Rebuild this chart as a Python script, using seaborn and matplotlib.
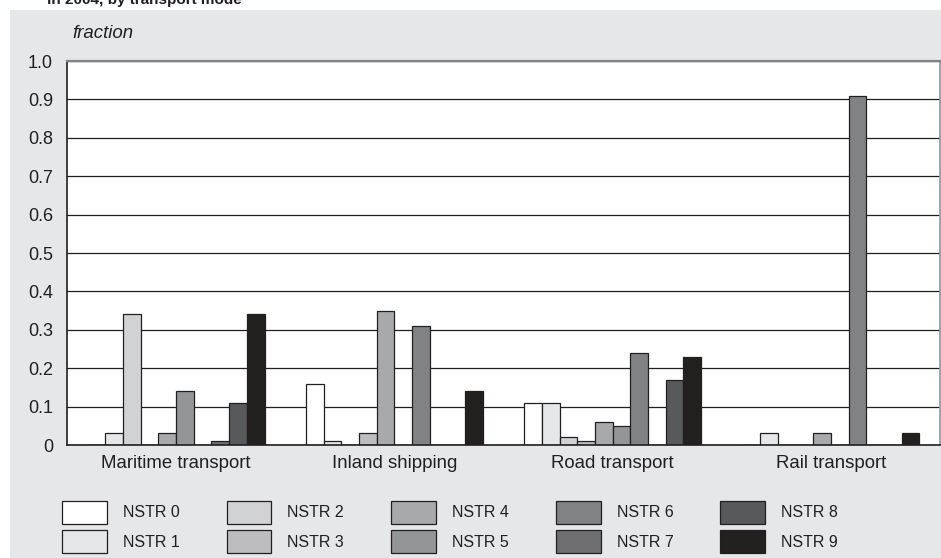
import matplotlib
matplotlib.use("Agg")
import matplotlib.pyplot as plt
from matplotlib.patches import Rectangle
import seaborn as sns
import pandas as pd

# values
modes = ["Maritime transport", "Inland shipping", "Road transport", "Rail transport"]
nstr = ["NSTR 0", "NSTR 1", "NSTR 2", "NSTR 3", "NSTR 4",
        "NSTR 5", "NSTR 6", "NSTR 7", "NSTR 8", "NSTR 9"]
maritime = [0.00, 0.03, 0.34, 0.00, 0.03, 0.14, 0.00, 0.01, 0.11, 0.34]
inland = [0.16, 0.01, 0.00, 0.03, 0.35, 0.00, 0.31, 0.00, 0.00, 0.14]
road = [0.11, 0.11, 0.02, 0.01, 0.06, 0.05, 0.24, 0.00, 0.17, 0.23]
rail = [0.00, 0.03, 0.00, 0.00, 0.03, 0.00, 0.91, 0.00, 0.00, 0.03]
yticks = [0, 0.1, 0.2, 0.3, 0.4, 0.5, 0.6, 0.7, 0.8, 0.9, 1.0]
ytick_labels = ["0", "0.1", "0.2", "0.3", "0.4", "0.5", "0.6", "0.7", "0.8", "0.9", "1.0"]

greys = ["#ffffff", "#e6e7e8", "#d1d2d4", "#bcbdc0", "#a7a9ac",
         "#939598", "#808285", "#6d6e71", "#58595b", "#231f20"]

rows = []
for mode, vals in zip(modes, [maritime, inland, road, rail]):
    for code, v in zip(nstr, vals):
        rows.append({"mode": mode, "nstr": code, "fraction": v})
df = pd.DataFrame(rows)

sns.set_style("white")
plt.rcParams["font.family"] = ["Liberation Sans", "DejaVu Sans"]

panel = "#e6e7e8"
ink = "#231f20"
fig = plt.figure(figsize=(9.41, 5.58), dpi=100)
fig.patch.set_facecolor("white")
W, H = 941, 558
fig.patches.append(Rectangle((10 / W, 0), 1 - 10 / W, 1 - 10 / H,
                             transform=fig.transFigure, facecolor=panel,
                             edgecolor="none", zorder=-10))
# title line is cropped at the top edge in the source image
fig.text(47 / W, 1 - 4 / H, "in 2004, by transport mode", fontsize=11,
         fontweight="bold", color=ink, va="baseline", ha="left")

ax = fig.add_axes([67 / W, 1 - 445 / H, (940 - 67) / W, (445 - 61) / H])
ax.set_facecolor("white")

sns.barplot(data=df, x="mode", y="fraction", hue="nstr", palette=greys,
            order=modes, hue_order=nstr, width=0.81, edgecolor=ink,
            linewidth=0.9, ax=ax)

handles, labels = ax.get_legend_handles_labels()
ax.get_legend().remove()

ax.set_ylim(0, 1.0)
ax.set_yticks(yticks)
ax.set_yticklabels(ytick_labels)
ax.set_xlim(-0.5, 3.5)
ax.set_xlabel("")
ax.set_ylabel("")
ax.yaxis.grid(True, color=ink, linewidth=0.9)
ax.set_axisbelow(True)
ax.tick_params(axis="both", length=0, labelsize=13, colors=ink)
ax.tick_params(axis="x", pad=7, labelsize=13.4)
ax.tick_params(axis="y", pad=10)

for side in ["left", "bottom"]:
    ax.spines[side].set_color(ink)
    ax.spines[side].set_linewidth(1.2)
ax.spines["top"].set_color("#808285")
ax.spines["top"].set_linewidth(1.6)
ax.spines["right"].set_color("#939598")
ax.spines["right"].set_linewidth(1.2)

fig.text(103 / W, 1 - 33 / H, "fraction", fontsize=13.4, style="italic",
         color=ink, ha="center", va="center")

fig.legend(handles, labels, ncol=5, loc="upper left",
           bbox_to_anchor=(62 / W, 1 - 501 / H), frameon=False,
           fontsize=11.5, handlelength=2.8, handleheight=1.8,
           handletextpad=1.0, columnspacing=2.95, labelspacing=0.42,
           borderaxespad=0, borderpad=0, labelcolor=ink)

fig.savefig("out.png", dpi=100, facecolor=fig.get_facecolor())
